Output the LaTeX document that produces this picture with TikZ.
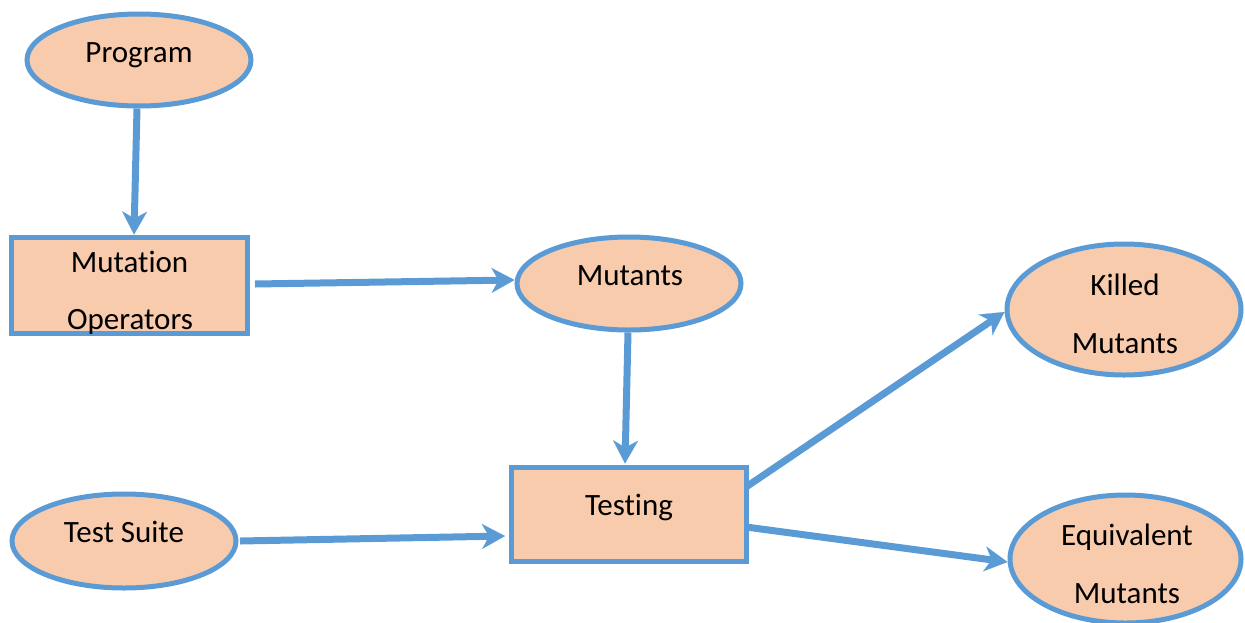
\documentclass[tikz,border=0pt]{standalone}
\usepackage{fontspec}
\setmainfont{Carlito}[RawFeature={-liga;-clig;-calt;-dlig}]
\usetikzlibrary{shapes.geometric,arrows.meta}
\definecolor{flowblue}{HTML}{5B9BD5}
\definecolor{flowfill}{HTML}{F8CBAD}
\tikzset{
  oval/.style={ellipse, draw=flowblue, fill=flowfill, line width=5pt, inner sep=0pt},
  stepbox/.style={rectangle, draw=flowblue, fill=flowfill, line width=5pt, inner sep=0pt},
  txt/.style={anchor=base, inner sep=0pt, font=\fontsize{31}{31}\selectfont},
  flow/.style={draw=flowblue, line width=7pt,
    -{Stealth[length=23pt,width=25pt,inset=7pt,line width=0.1pt]}},
}
\begin{document}
\begin{tikzpicture}[x=1pt,y=-1pt]
  \useasboundingbox (0,0) rectangle (1245,622);
  \clip (0,0) rectangle (1245,622);

  % shapes
  \node[oval, minimum width=224pt, minimum height=92pt] (prog) at (139,60) {};
  \node[stepbox, minimum width=236pt, minimum height=96pt] (mutop) at (129.5,285) {};
  \node[oval, minimum width=224pt, minimum height=93pt] (mutants) at (629,283.5) {};
  \node[stepbox, minimum width=235pt, minimum height=94pt] (testing) at (628.5,514) {};
  \node[oval, minimum width=224pt, minimum height=94pt] (suite) at (124,541) {};
  \node[oval, minimum width=234pt, minimum height=131pt] (killed) at (1124,309.5) {};
  \node[oval, minimum width=231pt, minimum height=128pt] (equiv) at (1125.5,559) {};

  % labels
  \node[txt] (progT) at (139,62) {Program};
  \node[txt] (mutopT1) at (129.5,272) {Mutat\kern0pt ion};
  \node[txt] (mutopT2) at (130,329) {Operators};
  \node[txt] (mutantsT) at (630,285) {Mutants};
  \node[txt] (testingT) at (629,515) {Testing};
  \node[txt] (suiteT) at (124,542) {Test Suite};
  \node[txt] (killedT1) at (1125,295) {Killed};
  \node[txt] (killedT2) at (1125,353) {Mutants};
  \node[txt] (equivT1) at (1127,545) {Equivalent};
  \node[txt] (equivT2) at (1127,603) {Mutants};

  % connectors
  \draw[flow] ([xshift=-2pt]prog.south) -- ([xshift=4.5pt]mutop.north);
  \draw[flow] ([xshift=5pt,yshift=1pt]mutop.east) -- ([yshift=3.5pt]mutants.west);
  \draw[flow] ([xshift=-1pt]mutants.south) -- ([xshift=-3.5pt,yshift=1pt]testing.north);
  \draw[flow] ([xshift=1.5pt]suite.east) -- ([xshift=-3.5pt,yshift=-22pt]testing.west);
  \draw[flow] ([xshift=-2.5pt,yshift=27pt]testing.east) -- ([yshift=-2.5pt]killed.west);
  \draw[flow] ([xshift=-2.5pt,yshift=-13pt]testing.east) -- ([yshift=-3pt]equiv.west);
\end{tikzpicture}
\end{document}
